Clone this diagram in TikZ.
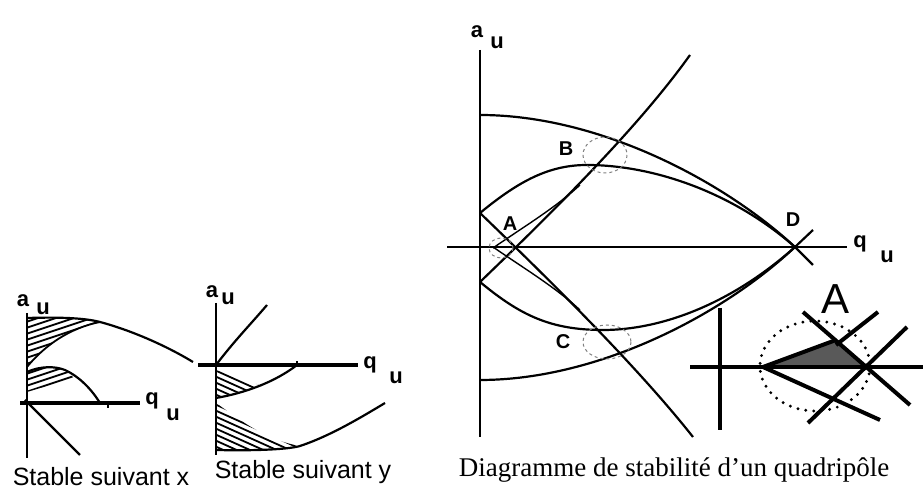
\documentclass[tikz,border=0pt]{standalone}
\usepackage{fontspec}
\setmainfont{Liberation Serif}
\setsansfont{Liberation Sans}
\usetikzlibrary{positioning}

\begin{document}
\begin{tikzpicture}[x=0.5pt, y=-0.5pt,
  axis/.style={line width=1.3pt},
  curve/.style={line width=1.1pt},
  hatch/.style={line width=0.9pt},
  zoomline/.style={line width=2pt},
  lbl/.style={inner sep=0pt, font=\sffamily\bfseries\fontsize{11}{12}\selectfont},
  ptlbl/.style={inner sep=0pt, font=\sffamily\bfseries\fontsize{10}{11}\selectfont},
  loupe/.style={gray, line width=0.5pt, dash pattern=on 1.5pt off 1.5pt},
  caption/.style={inner sep=0pt, font=\sffamily\fontsize{12.5}{14}\selectfont}]
  \useasboundingbox (0,0) rectangle (923,491);

  % stable suivant x
  \begin{scope}
    \clip (27,318) .. controls (60,317) and (85,318) .. (100,322)
      .. controls (70,328) and (45,345) .. (27,367) -- cycle;
    \foreach \k in {0,...,12} \draw[hatch] (20,318+6*\k) -- ++(120,-40);
  \end{scope}
  \begin{scope}
    \clip (27,372) .. controls (40,366) and (55,366) .. (65,370) -- (74,378) -- (27,392) -- cycle;
    \foreach \k in {0,...,8} \draw[hatch] (20,370+6*\k) -- ++(120,-40);
  \end{scope}
  \draw[axis] (27,313) -- (27,458);
  \draw[axis, line width=1.6pt] (20,403) -- (140,403);
  \draw[axis] (108,403) -- (108,408);
  \draw[curve] (27,318) .. controls (60,317) and (85,318) .. (100,322)
    .. controls (130,330) and (165,345) .. (193,362);
  \draw[hatch] (27,367) .. controls (45,345) and (70,328) .. (100,322);
  \draw[curve] (27,372) .. controls (40,366) and (55,366) .. (65,370)
    .. controls (80,377) and (92,390) .. (100,403);
  \draw[curve] (25,400) -- (80,455);
  \node[lbl] (xa) at (23,301) {a};
  \node[lbl] (xau) at (43,309) {u};
  \node[lbl] (xq) at (152,401) {q};
  \node[lbl] (xqu) at (173,415) {u};
  \node[caption] (capx) at (101,477) {Stable suivant x};

  % stable suivant y
  \begin{scope}
    \clip (216,370) -- (262,386) -- (216,398) -- cycle;
    \foreach \k in {0,...,10} \draw[hatch] (210,350+6*\k) -- ++(100,45);
  \end{scope}
  \begin{scope}
    \clip (216,403) .. controls (240,420) and (265,440) .. (300,446)
      .. controls (290,449) and (260,451) .. (216,450) -- cycle;
    \foreach \k in {0,...,16} \draw[hatch] (210,360+6*\k) -- ++(100,45);
  \end{scope}
  \draw[axis] (216,303) -- (216,455);
  \draw[axis, line width=1.6pt] (198,365) -- (358,365);
  \draw[axis] (297,361) -- (297,365);
  \draw[curve] (216,365) .. controls (235,340) and (250,325) .. (267,305);
  \draw[curve] (297,365) .. controls (275,382) and (245,393) .. (216,398);
  \draw[curve] (216,450) .. controls (260,451) and (290,449) .. (300,446)
    .. controls (330,436) and (360,418) .. (385,403);
  \node[lbl] (ya) at (212,292) {a};
  \node[lbl] (yau) at (228,299) {u};
  \node[lbl] (yq) at (370,365) {q};
  \node[lbl] (yqu) at (396,378) {u};
  \node[caption] (capy) at (303,472) {Stable suivant y};

  % diagramme principal
  \coordinate (D) at (795,247);
  \draw[axis, line width=0.9pt] (480,50) -- (480,437);
  \draw[axis, line width=0.9pt] (447,247) -- (847,247);
  \draw[curve] (480,115) .. controls (600,115) and (725,182) .. (D) -- (813,265);
  \draw[curve] (480,213) .. controls (520,180) and (550,165) .. (587,165)
    .. controls (650,165) and (730,190) .. (D);
  \draw[curve] (480,282) .. controls (520,315) and (550,330) .. (603,330)
    .. controls (660,330) and (730,305) .. (D);
  \draw[curve] (480,380) .. controls (600,380) and (725,313) .. (D) -- (813,230);
  \draw[curve] (480,213) .. controls (560,290) and (640,370) .. (693,437);
  \draw[curve] (480,282) .. controls (560,205) and (640,125) .. (690,55);
  \draw[curve, line width=0.7pt] (493,248) .. controls (525,226) and (555,208) .. (580,185);
  \draw[curve, line width=0.7pt] (493,247) .. controls (525,269) and (555,287) .. (580,310);
  \draw[loupe] (501,248) ellipse [x radius=12, y radius=10];
  \draw[loupe] (605,155) ellipse [x radius=22, y radius=18];
  \draw[loupe] (607,342) ellipse [x radius=24, y radius=17];
  \node[lbl] (ma) at (477,32) {a};
  \node[lbl] (mau) at (497,43) {u};
  \node[lbl] (mq) at (860,244) {q};
  \node[lbl] (mqu) at (887,257) {u};
  \node[ptlbl] (ptA) at (510,224) {A};
  \node[ptlbl] (ptB) at (566,149) {B};
  \node[ptlbl] (ptC) at (563,342) {C};
  \node[ptlbl] (ptD) at (793,220) {D};

  % agrandissement de A
  \coordinate (T1) at (763,367);
  \coordinate (T2) at (836,340);
  \coordinate (T3) at (864,367);
  \fill[black!65] (T1) -- (T2) -- (T3) -- cycle;
  \draw[zoomline] (690,367) -- (923,367);
  \draw[zoomline] (720,308) -- (720,430);
  \draw[zoomline] (T1) -- (T2);
  \draw[zoomline] (803,312) -- (910,405);
  \draw[zoomline] (907,327) -- (808,423);
  \draw[zoomline] (878,312) -- (836,345);
  \draw[zoomline] (T1) -- (880,420);
  \draw[line width=1.6pt, dash pattern=on 0pt off 4pt, line cap=round]
    (815,366) ellipse [x radius=55, y radius=45];
  \node[inner sep=0pt, font=\sffamily\fontsize{21}{22}\selectfont] (zoomA) at (836,299) {A};

  \node[inner sep=0pt, font=\rmfamily\fontsize{13.5}{15}\selectfont] (capq) at (674,470)
    {Diagramme de stabilité d'un quadripôle};
\end{tikzpicture}
\end{document}
